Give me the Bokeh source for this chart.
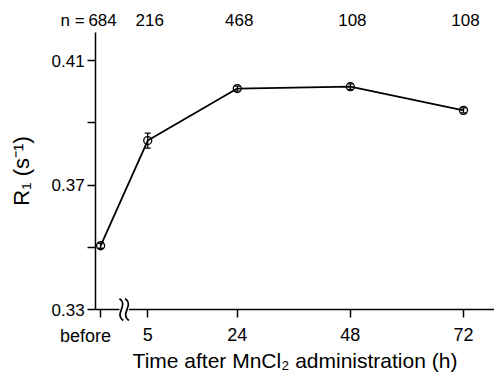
from bokeh.plotting import figure
from bokeh.models import FixedTicker, LinearAxis, Whisker, ColumnDataSource, TeeHead
from bokeh.core.properties import value
from bokeh.embed import file_html
from bokeh.resources import INLINE

# ---- data ----
times = [-5, 5, 24, 48, 72]          # "before" placed at -5 h
x_labels = ["before", "5", "24", "48", "72"]
r1 = [0.3505, 0.3843, 0.4010, 0.4016, 0.3940]
r1_err = [0.0008, 0.0024, 0.0008, 0.0009, 0.0008]
n_values = [684, 216, 468, 108, 108]
y_ticks = [0.33, 0.35, 0.37, 0.39, 0.41]
y_tick_labels = ["0.33", "", "0.37", "", "0.41"]
break_x = 0

FONT = "Liberation Sans"
Y_MIN, Y_AXIS_TOP = 0.33, 0.419
X_AXIS_LEFT, X_MAX = -6.06, 78.58

p = figure(width=494, height=376, x_range=(-26.24, X_MAX), y_range=(0.3085, 0.4293),
           output_backend="svg", toolbar_location=None,
           x_axis_location=None, y_axis_location=None,
           min_border_left=0, min_border_right=0, min_border_top=0, min_border_bottom=0)
p.outline_line_color = None
p.background_fill_color = "white"
for g in p.grid:
    g.visible = False

xaxis = LinearAxis(fixed_location=Y_MIN, bounds=(X_AXIS_LEFT, X_MAX))
yaxis = LinearAxis(fixed_location=X_AXIS_LEFT, bounds=(Y_MIN, Y_AXIS_TOP))
p.add_layout(xaxis, "below")
p.add_layout(yaxis, "left")

for ax in (xaxis, yaxis):
    ax.axis_line_color = "black"
    ax.axis_line_width = 1.5
    ax.major_tick_line_color = "black"
    ax.major_tick_line_width = 1.5
    ax.major_tick_in = 0
    ax.major_tick_out = 8
    ax.minor_tick_line_color = None
    ax.major_label_text_font = FONT
    ax.major_label_text_color = "black"
    ax.axis_label_text_font = FONT
    ax.axis_label_text_font_style = "normal"
    ax.axis_label_text_color = "black"

xaxis.ticker = FixedTicker(ticks=times)
overrides = {t: l for t, l in zip(times, x_labels)}
overrides[times[0]] = ""
xaxis.major_label_overrides = overrides
xaxis.major_label_text_font_size = "18px"
xaxis.major_label_standoff = 10
xaxis.axis_label = "Time after MnCl\u2082 administration (h)"
xaxis.axis_label_text_font_size = "21px"
xaxis.axis_label_standoff = 5

yaxis.ticker = FixedTicker(ticks=y_ticks)
yaxis.major_label_overrides = {t: l for t, l in zip(y_ticks, y_tick_labels)}
yaxis.major_label_text_font_size = "17px"
yaxis.major_label_standoff = 3
yaxis.axis_label = "R\u2081 (s\u207b\u00b9)"
yaxis.axis_label_text_font_size = "22px"
yaxis.axis_label_standoff = 14

# "before" tick label (sits left of its tick, as in the original)
p.text(x=[times[0]], y=[Y_MIN], x_offset=-15, y_offset=16, text=[x_labels[0]],
       text_align="center", text_baseline="top", text_font=value(FONT),
       text_font_size="18px", text_color="black")

# data line + markers
src = ColumnDataSource(dict(x=times, y=r1,
                            lo=[v - e for v, e in zip(r1, r1_err)],
                            hi=[v + e for v, e in zip(r1, r1_err)]))
p.line("x", "y", source=src, line_color="black", line_width=1.8)
w = Whisker(source=src, base="x", lower="lo", upper="hi", line_color="black", line_width=1.3,
            upper_head=TeeHead(size=6, line_color="black", line_width=1.3),
            lower_head=TeeHead(size=6, line_color="black", line_width=1.3))
p.add_layout(w)
p.scatter("x", "y", source=src, size=8, marker="circle", fill_color=None,
          line_color="black", line_width=1.3)

# axis break symbol
brk = p.rect(x=[break_x], y=[Y_MIN], width=2.0, height=0.006, fill_color="white", line_color=None)
brk.level = "overlay"
for dx in (-0.6, 0.6):
    b = p.bezier(x0=[break_x + dx - 0.4], y0=[Y_MIN + 0.0035], x1=[break_x + dx + 0.4], y1=[Y_MIN - 0.0035],
                 cx0=[break_x + dx + 1.6], cy0=[Y_MIN + 0.0012], cx1=[break_x + dx - 1.6], cy1=[Y_MIN - 0.0012],
                 line_color="black", line_width=1.7)
    b.level = "overlay"

# n labels on top
n_y = Y_AXIS_TOP + 0.0039
p.text(x=times, y=[n_y] * len(times), text=[str(v) for v in n_values], text_align="center",
       x_offset=2, text_baseline="middle", text_font=value(FONT), text_font_size="17px",
       text_color="black")
p.text(x=[times[0]], y=[n_y], x_offset=-16, text=["n ="], text_align="right",
       text_baseline="middle", text_font=value(FONT), text_font_size="17px", text_color="black")

open("out.html", "w").write(file_html(p, INLINE))
